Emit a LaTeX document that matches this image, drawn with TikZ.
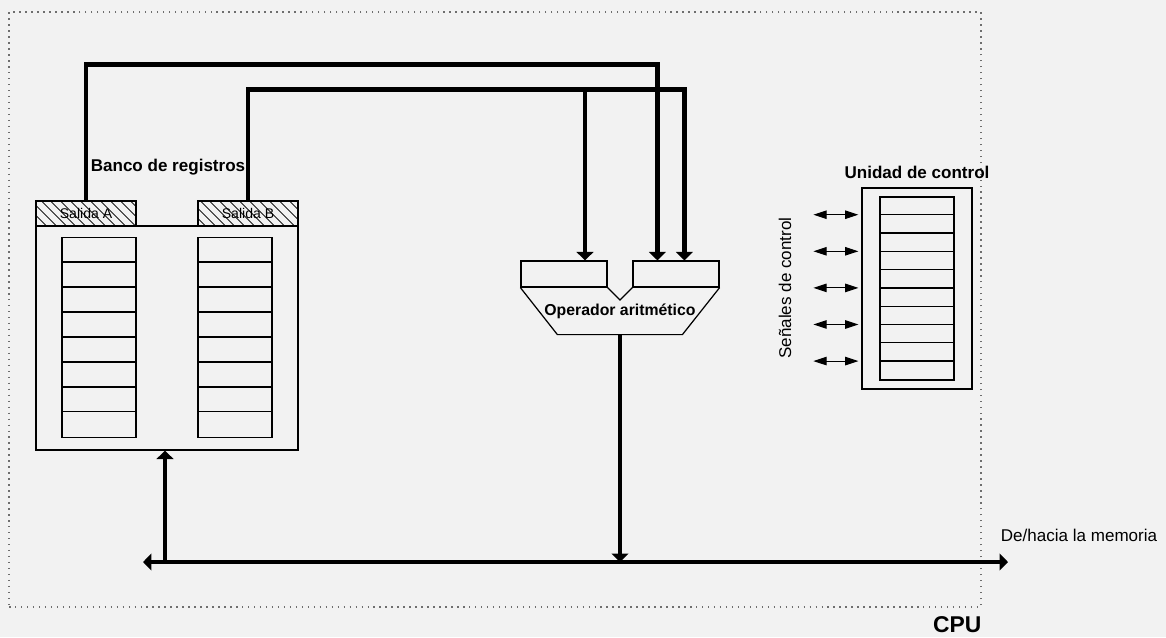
\documentclass[tikz,border=0pt]{standalone}
\usepackage{fontspec}
\setmainfont{Liberation Sans}
\usepackage{tikz}
\usetikzlibrary{positioning,arrows.meta,patterns.meta}
\definecolor{fondo}{RGB}{242,242,242}
\definecolor{punteado}{RGB}{110,110,110}

\begin{document}
\begin{tikzpicture}[x=0.02cm,y=-0.02cm,
  caja/.style={rectangle, draw, inner sep=0pt, line width=0.7pt},
  salida/.style={caja, minimum width=2cm, minimum height=0.5cm,
                 pattern={Lines[angle=-45,distance=4pt,line width=0.45pt]},
                 font=\fontsize{8}{9}\selectfont},
  columna/.style={caja, minimum width=1.48cm, minimum height=4cm},
  entrada/.style={caja, minimum width=1.72cm, minimum height=0.52cm},
  bus/.style={line width=2.8pt, -{Triangle[length=4.8pt,width=9.5pt]}},
  senal/.style={line width=0.6pt, {Triangle[length=7.5pt,width=4.8pt]}-{Triangle[length=7.5pt,width=4.8pt]}},
  titulo/.style={font=\fontsize{9.7}{11}\selectfont\bfseries},
  texto/.style={font=\fontsize{9.7}{11}\selectfont}]
  \useasboundingbox[fill=fondo] (0,0) rectangle (1166,637);
  % CPU
  \node[draw=punteado, line width=0.8pt, dash pattern=on 0.8pt off 2.6pt, inner sep=0pt,
        minimum width=19.44cm, minimum height=11.9cm] (cpu) at (495,309.5) {};
  \node[inner sep=0pt, anchor=north east, font=\fontsize{13}{15}\selectfont\bfseries]
        (cpulbl) at ([yshift=-0.18cm]cpu.south east) {CPU};
  % banco de registros
  \node[caja, minimum width=5.24cm, minimum height=4.48cm] (banco) at (167,338) {};
  \node[salida] (salA) at (86,213.5) {Salida A};
  \node[salida] (salB) at (248,213.5) {Salida B};
  \node[titulo] (bancolbl) at (168,167) {Banco de registros};
  \node[columna] (regA) at (99,337.5) {};
  \node[columna] (regB) at (235,337.5) {};
  \foreach \i in {1,...,7} {
    \draw[line width=0.7pt] ([yshift=-\i*0.5cm]regA.north west) -- ([yshift=-\i*0.5cm]regA.north east);
    \draw[line width=0.7pt] ([yshift=-\i*0.5cm]regB.north west) -- ([yshift=-\i*0.5cm]regB.north east);
  }
  % operador aritmetico
  \node[entrada] (entA) at (564,274) {};
  \node[entrada] (entB) at (676,274) {};
  \node[font=\fontsize{9}{11}\selectfont\bfseries] (alu) at (620,311) {Operador aritmético};
  \draw[line width=0.7pt] (entA.south west) -- ++(37,47) -- ++(125,0) -- (entB.south east);
  \draw[line width=0.7pt] (entA.south east) -- (620,300) -- (entB.south west);
  \coordinate (aluS) at (620,334);
  % unidad de control
  \node[caja, minimum width=2.2cm, minimum height=4.02cm] (uc) at (917,288.5) {};
  \node[caja, minimum width=1.48cm, minimum height=3.66cm] (ucreg) at (917,288.5) {};
  \node[titulo] (uclbl) at (917,172) {Unidad de control};
  \foreach \i in {1,...,9}
    \draw[line width=0.7pt] ([yshift=-\i*0.366cm]ucreg.north west) -- ([yshift=-\i*0.366cm]ucreg.north east);
  \coordinate (s0) at (uc.west |- ucreg.north);
  \foreach \i in {1,3,5,7,9}
    \draw[senal] ([xshift=-0.96cm,yshift=-\i*0.366cm]s0) -- ([xshift=-0.06cm,yshift=-\i*0.366cm]s0);
  \node[texto, rotate=90] (senlbl) at (785,288) {Señales de control};
  % buses
  \coordinate (ent0) at ([xshift=0.42cm]entA.north);
  \coordinate (ent1) at ([xshift=0.5cm]entB.north west);
  \coordinate (ent2) at ([xshift=1.04cm]entB.north west);
  \draw[bus] (salA.north) -- ++(0,-136) -| (ent1);
  \draw[bus] (salB.north) -- ++(0,-111) coordinate (codoB) -| (ent2);
  \draw[bus] (codoB -| ent0) -- (ent0);
  \coordinate (busI) at (143,562);
  \coordinate (busD) at (1008,562);
  \draw[line width=2.8pt, {Triangle[length=4.8pt,width=9.5pt]}-{Triangle[length=4.8pt,width=9.5pt]}] (busI) -- (busD);
  \draw[bus] ([xshift=-0.04cm]banco.south |- busI) -- ([xshift=-0.04cm]banco.south);
  \draw[bus] (aluS) -- (aluS |- busI);
  \node[texto] (mem) at (1079,535) {De/hacia la memoria};
\end{tikzpicture}
\end{document}
